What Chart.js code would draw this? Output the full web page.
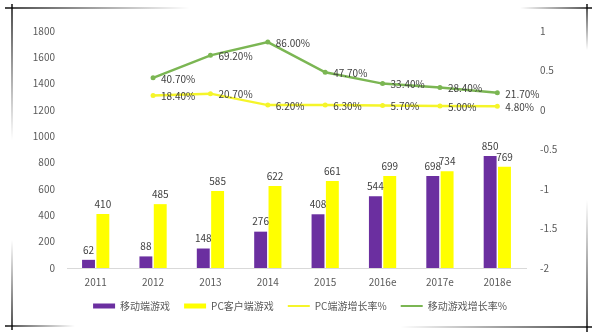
<!DOCTYPE html>
<html>
<head>
<meta charset="utf-8">
<script src="https://cdn.jsdelivr.net/npm/chart.js@4/dist/chart.umd.min.js"></script>
<style>
  html, body { margin: 0; padding: 0; background: #ffffff; }
  #wrap { width: 600px; height: 336px; position: relative; }
</style>
</head>
<body>
<div id="wrap"><canvas id="c" width="600" height="336"></canvas></div>
<script>
const categories = ['2011', '2012', '2013', '2014', '2015', '2016e', '2017e', '2018e'];
const mobileGames = [62, 88, 148, 276, 408, 544, 698, 850];
const pcClientGames = [410, 485, 585, 622, 661, 699, 734, 769];
const pcGrowth = [null, 0.184, 0.207, 0.062, 0.063, 0.057, 0.050, 0.048];
const mobileGrowth = [null, 0.407, 0.692, 0.860, 0.477, 0.334, 0.284, 0.217];
const seriesNames = ['移动端游戏', 'PC客户端游戏', 'PC端游增长率%', '移动游戏增长率%'];
const leftTicks = { min: 0, max: 1800, step: 200 };
const rightTicks = { min: -2, max: 1, step: 0.5 };

const FONT = '"Noto Sans CJK SC", "Noto Sans", sans-serif';
const TXT = '#595959';

const frame = {
  id: 'frame',
  beforeDraw(chart) {
    const ctx = chart.ctx;
    ctx.save();
    ctx.fillStyle = '#ffffff';
    ctx.fillRect(0, 0, chart.width, chart.height);
    function seg(x1, y1, x2, y2, fadeAtEnd) {
      const g = ctx.createLinearGradient(x1, y1, x2, y2);
      if (fadeAtEnd) { g.addColorStop(0, 'rgba(0,0,0,0.95)'); g.addColorStop(1, 'rgba(0,0,0,0)'); }
      else { g.addColorStop(0, 'rgba(0,0,0,0)'); g.addColorStop(1, 'rgba(0,0,0,0.95)'); }
      ctx.strokeStyle = g;
      ctx.lineWidth = 1.5;
      ctx.beginPath(); ctx.moveTo(x1, y1); ctx.lineTo(x2, y2); ctx.stroke();
    }
    seg(5, 8, 190, 8, true);
    seg(12, 4, 12, 140, true);
    seg(520, 8, 592, 8, false);
    seg(587, 4, 587, 50, true);
    seg(5, 326, 75, 326, true);
    seg(12, 240, 12, 330, false);
    seg(400, 327, 592, 327, false);
    seg(587, 200, 587, 332, false);
    ctx.restore();
  }
};

const valueLabels = {
  id: 'valueLabels',
  afterDatasetsDraw(chart) {
    const ctx = chart.ctx;
    ctx.save();
    ctx.font = '10px ' + FONT;
    ctx.fillStyle = '#404040';
    chart.data.datasets.forEach((ds, i) => {
      const meta = chart.getDatasetMeta(i);
      meta.data.forEach((el, j) => {
        const v = ds.data[j];
        if (v === null || v === undefined) return;
        if (ds.type === 'line') {
          ctx.textAlign = 'left';
          ctx.textBaseline = 'middle';
          ctx.fillText((v * 100).toFixed(2) + '%', el.x + 8, el.y + 1);
        } else {
          ctx.textAlign = 'center';
          ctx.textBaseline = 'bottom';
          ctx.fillText(String(v), el.x, el.y - 5);
        }
      });
    });
    ctx.restore();
  }
};

new Chart(document.getElementById('c'), {
  data: {
    labels: categories,
    datasets: [
      { type: 'bar', label: seriesNames[0], data: mobileGames, backgroundColor: '#6b2fa0', yAxisID: 'y', categoryPercentage: 0.5, barPercentage: 0.9, order: 2 },
      { type: 'bar', label: seriesNames[1], data: pcClientGames, backgroundColor: '#ffff00', yAxisID: 'y', categoryPercentage: 0.5, barPercentage: 0.9, order: 2 },
      { type: 'line', label: seriesNames[2], data: pcGrowth, borderColor: '#f5f52a', backgroundColor: '#f5f52a', borderWidth: 2.5, pointRadius: 2.5, pointBackgroundColor: '#f5f52a', pointBorderWidth: 0, yAxisID: 'y1', tension: 0, order: 1 },
      { type: 'line', label: seriesNames[3], data: mobileGrowth, borderColor: '#7bb653', backgroundColor: '#7bb653', borderWidth: 2.5, pointRadius: 2.5, pointBackgroundColor: '#7bb653', pointBorderWidth: 0, yAxisID: 'y1', tension: 0, order: 1 }
    ]
  },
  options: {
    responsive: false,
    animation: false,
    devicePixelRatio: 1,
    layout: { padding: { top: 31, left: 0, right: 0, bottom: 15 } },
    plugins: {
      legend: {
        position: 'bottom',
        labels: {
          usePointStyle: true,
          pointStyleWidth: 22,
          boxHeight: 5,
          padding: 14,
          color: TXT,
          font: { size: 10, family: FONT },
          generateLabels(chart) {
            return chart.data.datasets.map((ds, i) => ({
              text: ds.label,
              fillStyle: ds.backgroundColor,
              strokeStyle: ds.type === 'line' ? ds.borderColor : ds.backgroundColor,
              lineWidth: ds.type === 'line' ? 2 : 0,
              pointStyle: ds.type === 'line' ? 'line' : 'rect',
              fontColor: TXT,
              hidden: false,
              datasetIndex: i
            }));
          }
        }
      },
      tooltip: { enabled: false }
    },
    scales: {
      x: {
        grid: { display: false, drawTicks: false },
        border: { display: true, color: '#d9d9d9', width: 1 },
        ticks: { color: TXT, font: { size: 10, family: FONT }, padding: 8 },
        afterFit(scale) { scale.height -= 9; }
      },
      y: {
        position: 'left',
        min: leftTicks.min, max: leftTicks.max,
        grid: { display: false, drawTicks: false },
        border: { display: false },
        ticks: { stepSize: leftTicks.step, color: TXT, font: { size: 10, family: FONT }, padding: 12,
                 callback: v => String(v) },
        afterFit(scale) { scale.width = 67; }
      },
      y1: {
        position: 'right',
        min: rightTicks.min, max: rightTicks.max,
        grid: { display: false, drawTicks: false },
        border: { display: false },
        ticks: { stepSize: rightTicks.step, color: TXT, font: { size: 10, family: FONT }, padding: 14,
                 callback: v => String(Math.round(v * 10) / 10) },
        afterFit(scale) { scale.width = 74; }
      }
    }
  },
  plugins: [frame, valueLabels]
});
</script>
</body>
</html>
